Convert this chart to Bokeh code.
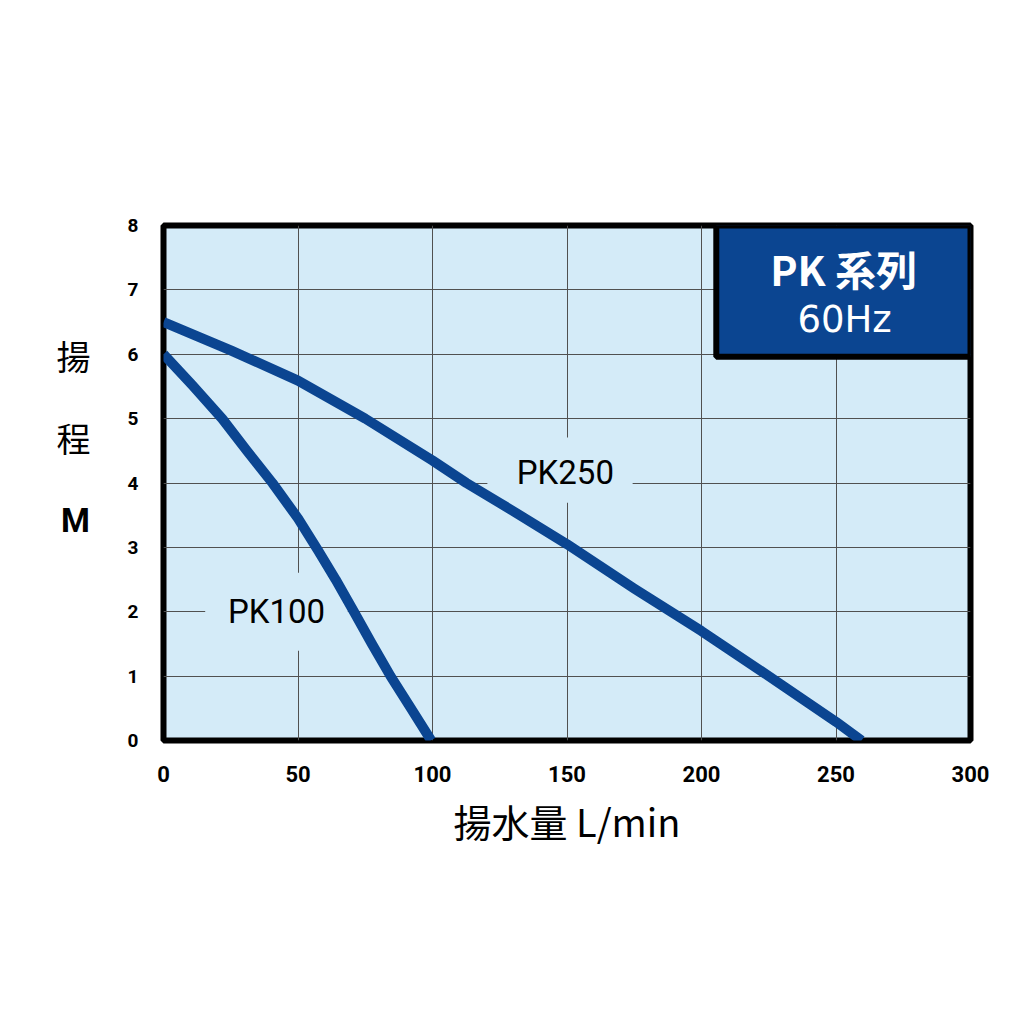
from bokeh.plotting import figure
from bokeh.models import Range1d, FixedTicker
from bokeh.layouts import row
from bokeh.core.properties import value
from bokeh.embed import file_html
from bokeh.resources import INLINE

# ---- data ----
pk100_flow = [0, 10.7, 21.8, 31, 40.5, 50, 57.5, 64, 70.8, 77.5, 84.4, 92, 99.5]
pk100_head = [6.0, 5.52, 5.0, 4.5, 4.0, 3.45, 2.95, 2.5, 2.0, 1.5, 1.0, 0.5, 0.0]
pk250_flow = [0, 25, 50, 75, 100, 112.6, 125, 150, 175, 200, 225, 250, 259.5]
pk250_head = [6.5, 6.06, 5.59, 5.0, 4.35, 4.0, 3.69, 3.05, 2.36, 1.7, 1.0, 0.29, 0.0]
x_ticks = [0, 50, 100, 150, 200, 250, 300]
y_ticks = [0, 1, 2, 3, 4, 5, 6, 7, 8]
series_names = ["PK100", "PK250"]
title_lines = ["PK 系列", "60Hz"]
x_title = "揚水量 L/min"
y_title_chars = ["揚", "程", "M"]

BG = "#d4ebf8"
BLUE = "#0b4591"

y_range = Range1d(0, 8)

# ---- left strip carrying the vertical y-axis title (shares the y scale) ----
q = figure(width=120, height=1024, output_backend="svg", toolbar_location=None,
           x_range=Range1d(0, 120), y_range=y_range,
           min_border=0, x_axis_type=None, y_axis_type=None)
q.outline_line_color = None
q.grid.visible = False
q.background_fill_color = "white"
q.text(x=[73, 73], y=[5.98, 4.71], text=y_title_chars[:2], text_align="center",
       text_baseline="middle", text_font=value("Noto Sans CJK JP"),
       text_font_size="34px", text_color="black")
q.text(x=[75], y=[3.42], text=y_title_chars[2:], text_align="center",
       text_baseline="middle", text_font=value("Roboto"), text_font_style="bold",
       text_font_size="33px", text_color="black")

# ---- main chart ----
p = figure(width=904, height=1024, output_backend="svg", toolbar_location=None,
           x_range=Range1d(0, 300), y_range=y_range,
           min_border_left=43, min_border_right=54, min_border_top=225, min_border_bottom=284)
p.background_fill_color = BG
p.border_fill_color = "white"
p.outline_line_color = "black"
p.outline_line_width = 6

p.xaxis.ticker = FixedTicker(ticks=x_ticks)
p.yaxis.ticker = FixedTicker(ticks=y_ticks)
for ax in (p.xaxis, p.yaxis):
    ax.axis_line_color = None
    ax.major_tick_line_color = None
    ax.minor_tick_line_color = None
    ax.major_label_text_font = "Roboto"
    ax.major_label_text_font_style = "bold"
    ax.major_label_text_color = "black"
p.xaxis.major_label_text_font_size = "22px"
p.yaxis.major_label_text_font_size = "19px"
p.xaxis.major_label_standoff = 19
p.yaxis.major_label_standoff = 19
p.xaxis.axis_label = x_title
p.xaxis.axis_label_text_font = "Noto Sans CJK JP"
p.xaxis.axis_label_text_font_style = "normal"
p.xaxis.axis_label_text_font_size = "38px"
p.xaxis.axis_label_text_color = "black"
p.xaxis.axis_label_standoff = 8

p.xgrid.grid_line_color = "#505050"
p.ygrid.grid_line_color = "#505050"
p.xgrid.grid_line_width = 1
p.ygrid.grid_line_width = 1

# label background boxes (hide grid behind labels)
p.rect(x=[42, 147.4], y=[2.0, 4.2], width=[53, 54], height=[1.21, 1.01],
       fill_color=BG, line_color=None)

# curves
p.line(pk100_flow, pk100_head, line_color=BLUE, line_width=10, line_cap="butt", line_join="round")
p.line(pk250_flow, pk250_head, line_color=BLUE, line_width=10, line_cap="butt", line_join="round")

# curve labels
p.text(x=[42, 149.4], y=[2.0, 4.16], text=series_names, text_align="center",
       text_baseline="middle", text_font=value("Roboto"), text_font_size="33px",
       text_color="black")

# title box
p.quad(left=[205.5], right=[300], bottom=[5.96], top=[8], fill_color=BLUE,
       line_color="black", line_width=6)
p.text(x=[252.8], y=[7.34], text=title_lines[:1], text_align="center",
       text_baseline="middle", text_font=value("Noto Sans CJK JP"), text_font_size="41px",
       text_font_style="bold", text_color="white")
p.text(x=[253.2], y=[6.54], text=title_lines[1:], text_align="center",
       text_baseline="middle", text_font=value("DejaVu Sans"), text_font_size="37px",
       text_color="white")

layout = row(q, p, spacing=0)
open("out.html", "w").write(file_html(layout, INLINE))
